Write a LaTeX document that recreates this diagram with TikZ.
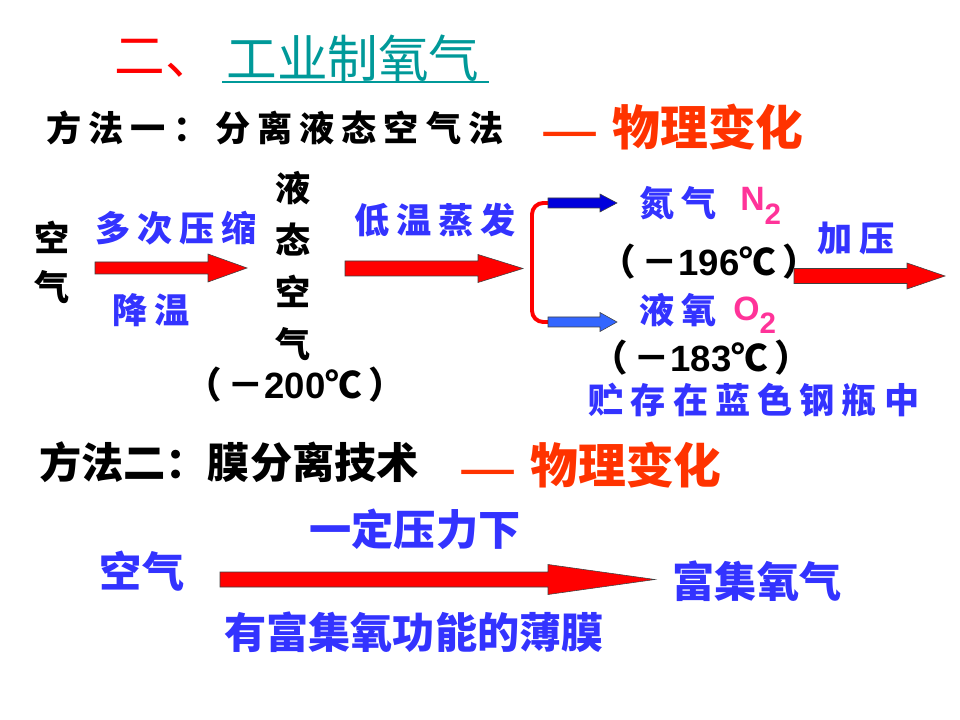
\documentclass[tikz,border=0pt]{standalone}
\usepackage{fontspec}
\setmainfont{Liberation Sans}
\newfontfamily\cjk{Noto Sans CJK SC}
\newfontfamily\cjkwide{Noto Sans CJK SC}[LetterSpace=20]

\definecolor{labelblue}{RGB}{51,51,255}
\definecolor{titleteal}{RGB}{0,153,153}
\definecolor{resultred}{RGB}{255,51,0}
\definecolor{formulapink}{RGB}{255,51,153}
\definecolor{darkarrow}{RGB}{0,0,220}
\definecolor{lightarrow}{RGB}{51,102,255}

% flecha gruesa: estilo, inicio, largo del cuerpo, largo de la punta, medio cuerpo, media punta
\newcommand{\blockarrow}[6]{%
  \draw[#1] (#2) ++(0,-#5) -- ++(#3,0) -- ++(0,{-(#6-#5)}) -- ++(#4,#6)
    -- ++(-#4,#6) -- ++(0,{-(#6-#5)}) -- ++(-#3,0) -- cycle;}

\begin{document}
\begin{tikzpicture}[
    x=0.025cm, y=-0.025cm,
    % textos caligraficos con espaciado
    calli/.style={font=\cjkwide\bfseries\fontsize{25}{37}\selectfont, text=black, inner sep=0pt},
    bluelabel/.style={calli, text=labelblue},
    % textos en negrita tipo heiti
    heavy/.style={font=\cjk\bfseries\fontsize{30}{30}\selectfont, text=black, inner sep=0pt},
    heavyblue/.style={heavy, text=labelblue},
    result/.style={font=\cjk\bfseries\fontsize{34}{34}\selectfont, text=resultred, inner sep=0pt},
    temp/.style={font=\bfseries\fontsize{26}{26}\selectfont, text=black, inner sep=0pt},
    formula/.style={font=\bfseries\fontsize{24}{24}\selectfont, text=formulapink, inner sep=0pt},
    % flechas
    redarrow/.style={fill=red, draw=black!75, line width=0.4pt},
    bluearrow/.style={fill=darkarrow, draw=black!75, line width=0.4pt},
    skyarrow/.style={fill=lightarrow, draw=black!75, line width=0.4pt}
]
    \useasboundingbox (0,0) rectangle (960,720);

    % ==========================================
    % TITULO
    % ==========================================
    \node[font=\cjk\fontsize{36}{36}\selectfont, text=red, inner sep=0pt] (num) at (165,58) {二、};
    \node[font=\cjk\fontsize{36}{36}\selectfont, text=titleteal, inner sep=0pt] (title) at (353,58) {工业制氧气};
    \draw[titleteal, line width=1.5pt] (222,82) -- (489,82);

    % ==========================================
    % METODO UNO
    % ==========================================
    \node[calli] (way1) at (275,128) {方法一：分离液态空气法};
    \node[result] (way1res) at (672,127) {\scalebox{1.35}[0.8]{—}\;物理变化};

    \node[calli] (airtop) at (52,237) {空};
    \node[calli] (airbot) at (52,287) {气};
    \node[bluelabel] (compress) at (176,228) {多次压缩};
    \node[bluelabel] (cool) at (151,310) {降温};

    \node[calli, align=center] (liquid) at (293,266) {液\\态\\空\\气};
    \node[temp] (liqtemp) at (295,385) {{\cjk （\,－}200{\cjk ℃\,）}};

    \node[bluelabel] (evap) at (435,220) {低温蒸发};

    \node[bluelabel] (nitro) at (678,203) {氮气};
    \node[formula, anchor=west] (nform) at (740,206) {N\raisebox{-0.42em}{\fontsize{21}{21}\selectfont 2}};
    \node[temp] (ntemp) at (709,262) {{\cjk （\,－}196{\cjk ℃\,）}};
    \node[bluelabel] (press) at (856,238) {加压};

    \node[bluelabel] (oxy) at (678,310) {液氧};
    \node[formula, anchor=west] (oform) at (733,315) {O\raisebox{-0.38em}{\fontsize{21}{21}\selectfont 2}};
    \node[temp] (otemp) at (701,358) {{\cjk （\,－}183{\cjk ℃\,）}};
    \node[bluelabel] (store) at (754,400) {贮存在蓝色钢瓶中};

    % flechas del metodo uno
    \coordinate (a1) at (95,268);
    \coordinate (a2) at (345,268.5);
    \coordinate (a3) at (794,276);
    \coordinate (b1) at (548,203);
    \coordinate (b2) at (548,322);
    \blockarrow{redarrow}{a1}{113}{39}{6}{14}
    \blockarrow{redarrow}{a2}{133}{45}{7.5}{14}
    \blockarrow{redarrow}{a3}{113}{38}{7.5}{13}

    % corchete de separacion
    \draw[red, line width=2.8pt, rounded corners=8pt] (b1) -- (532,203) -- (532,322) -- (b2);
    \blockarrow{bluearrow}{b1}{52}{17}{5}{9}
    \blockarrow{skyarrow}{b2}{52}{17}{5}{9.5}

    % ==========================================
    % METODO DOS
    % ==========================================
    \node[heavy] (way2) at (229,462) {方法二：膜分离技术};
    \node[result] (way2res) at (590,465) {\scalebox{1.35}[0.8]{—}\;物理变化};

    \node[heavyblue] (air2) at (142,571) {空气};
    \node[heavyblue] (pressure) at (415,529) {一定压力下};
    \node[heavyblue] (rich) at (757,581) {富集氧气};
    \node[heavyblue] (membrane) at (414,632) {有富集氧功能的薄膜};

    \coordinate (a4) at (220,579.5);
    \blockarrow{redarrow}{a4}{328}{107}{7.5}{15}

\end{tikzpicture}
\end{document}
